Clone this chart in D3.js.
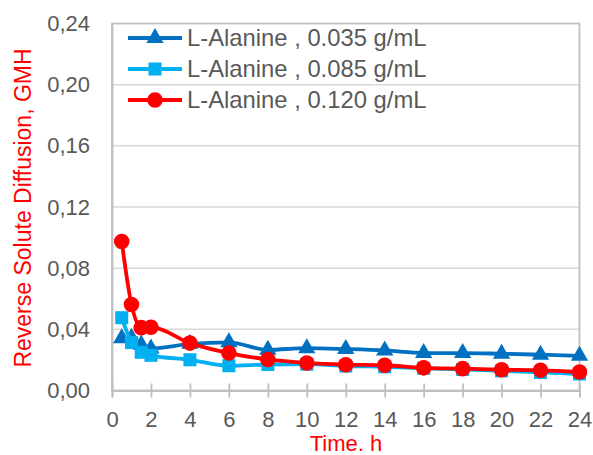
<!DOCTYPE html>
<html><head><meta charset="utf-8">
<script src="https://cdn.jsdelivr.net/npm/d3@7"></script>
<style>body{margin:0;background:#fff;} svg{display:block;font-family:Arial,"Liberation Sans",sans-serif;}</style>
</head><body>
<svg id="c" width="593" height="455"></svg>
<script>
const timeA = [0.5, 1, 1.5, 2, 4, 6, 8, 10, 12, 14, 16, 18, 20, 22, 24];
const s035 = [0.0342, 0.0345, 0.0300, 0.0275, 0.0305, 0.0315, 0.0266, 0.0277, 0.0271, 0.0262, 0.0245, 0.0245, 0.0240, 0.0234, 0.0227];
const s085 = [0.0476, 0.0314, 0.0250, 0.0230, 0.0201, 0.0162, 0.0170, 0.0172, 0.0160, 0.0155, 0.0145, 0.0138, 0.0128, 0.0118, 0.0108];
const s120 = [0.0974, 0.0563, 0.0411, 0.0414, 0.0310, 0.0245, 0.0203, 0.0180, 0.0169, 0.0165, 0.0148, 0.0143, 0.0136, 0.0132, 0.0121];
const seriesNames = ["L-Alanine , 0.035 g/mL", "L-Alanine , 0.085 g/mL", "L-Alanine , 0.120 g/mL"];
const xTicks = [0,2,4,6,8,10,12,14,16,18,20,22,24];
const yTicks = [0,0.04,0.08,0.12,0.16,0.20,0.24];
const xTitle = "Time. h";
const yTitle = "Reverse Solute Diffusion, GMH";

const series = [
  {name: seriesNames[0], values: s035, color: "#0070C0", marker: "triangle"},
  {name: seriesNames[1], values: s085, color: "#00B0F0", marker: "square"},
  {name: seriesNames[2], values: s120, color: "#FF0000", marker: "circle"}
];

const svg = d3.select("#c");
const L = 112, R = 579.5, T = 23.5, B = 390.5;
const x = d3.scaleLinear().domain([0,24]).range([L,R]);
const y = d3.scaleLinear().domain([0,0.24]).range([B,T]);

// gridlines
svg.append("g").selectAll("line").data(yTicks.filter(d=>d>0 && d<0.24)).join("line")
  .attr("x1",L).attr("x2",R).attr("y1",d=>y(d)).attr("y2",d=>y(d))
  .attr("stroke","#D9D9D9").attr("stroke-width",1.5);

// plot border
svg.append("rect").attr("x",L).attr("y",T).attr("width",R-L).attr("height",B-T)
  .attr("fill","none").attr("stroke","#C0C0C0").attr("stroke-width",1.8);

// x axis
const xAxis = d3.axisBottom(x).tickValues(xTicks).tickSize(7).tickPadding(14).tickFormat(d3.format("d"));
const gx = svg.append("g").attr("transform",`translate(0,${B})`).call(xAxis);
gx.select(".domain").attr("stroke","#BFBFBF").attr("stroke-width",1.8);
gx.selectAll(".tick line").attr("stroke","#BFBFBF").attr("stroke-width",1.8).attr("y1",-7);
gx.selectAll("text").attr("fill","#595959").style("font-size","22px").attr("font-family","Arial, Liberation Sans, sans-serif");

// y axis
const yAxis = d3.axisLeft(y).tickValues(yTicks).tickSize(0).tickPadding(22)
  .tickFormat(d => d3.format(".2f")(d).replace(".", ","));
const gy = svg.append("g").attr("transform",`translate(${L},0)`).call(yAxis);
gy.select(".domain").attr("stroke","#BFBFBF").attr("stroke-width",1.8);
gy.selectAll("text").attr("fill","#595959").style("font-size","22px").attr("font-family","Arial, Liberation Sans, sans-serif");

// titles
svg.append("text").attr("x",346).attr("y",443).attr("dy","0.35em").attr("text-anchor","middle")
  .attr("fill","#FF0000").style("font-size","22px").text(xTitle);
svg.append("text").attr("transform",`translate(23,${208}) rotate(-90)`).attr("dy","0.35em").attr("text-anchor","middle")
  .attr("fill","#FF0000").style("font-size","23px").text(yTitle);

const sym = {
  triangle: d3.symbol().type(d3.symbolTriangle).size(130),
  square: d3.symbol().type(d3.symbolSquare).size(170),
  circle: d3.symbol().type(d3.symbolCircle).size(190)
};

const line = d3.line().x((d,i)=>x(timeA[i])).y(d=>y(d)).curve(d3.curveMonotoneX);

series.forEach(s => {
  const g = svg.append("g");
  g.append("path").attr("d", line(s.values)).attr("fill","none").attr("stroke",s.color).attr("stroke-width",3.8);
  g.selectAll("path.m").data(s.values).join("path").attr("class","m")
    .attr("transform",(d,i)=>`translate(${x(timeA[i])},${y(d)})`)
    .attr("d", sym[s.marker]()).attr("fill",s.color);
});

// legend
const lg = svg.append("g");
series.forEach((s,i) => {
  const yy = 38 + i*31;
  lg.append("line").attr("x1",128).attr("x2",182).attr("y1",yy).attr("y2",yy).attr("stroke",s.color).attr("stroke-width",3.8);
  lg.append("path").attr("transform",`translate(155,${yy})`).attr("d",sym[s.marker]()).attr("fill",s.color);
  lg.append("text").attr("x",187).attr("y",yy).attr("dy","0.35em").attr("fill","#595959").style("font-size","23.8px").text(s.name);
});
</script>
</body></html>
